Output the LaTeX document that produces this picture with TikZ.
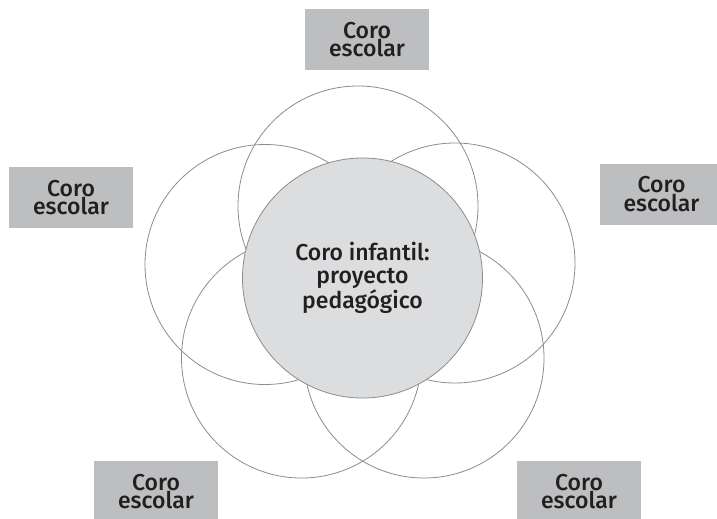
\documentclass[tikz,border=0pt]{standalone}
\usepackage{fontspec}
\setmainfont{Fira Sans Medium}
\definecolor{boxgray}{HTML}{BDBEC0}
\definecolor{hubgray}{HTML}{DCDDDE}
\definecolor{ringgray}{HTML}{8C8C8C}
\definecolor{ink}{HTML}{231F20}
\begin{document}
\begin{tikzpicture}[x=1pt,y=-1pt,
  ring/.style={circle,draw=ringgray,line width=0.8pt,minimum size=240pt,inner sep=0pt},
  hub/.style={circle,draw=ringgray,line width=0.8pt,fill=hubgray,minimum size=240pt,inner sep=0pt,
    text=ink,align=center,font=\fontsize{23}{22.5}\selectfont},
  label/.style={rectangle,fill=boxgray,minimum width=124pt,minimum height=61pt,inner sep=0pt,
    text=ink,align=center,font=\fontsize{23}{17.5}\selectfont}]
\useasboundingbox (0,0) rectangle (717,519);
\clip (0,0) rectangle (717,519);
\node[ring] (rt) at (358,206) {};
\node[ring] (rl) at (265,264.5) {};
\node[ring] (rr) at (455,263) {};
\node[ring] (rbl) at (301.5,358) {};
\node[ring] (rbr) at (424,358) {};
\node[hub] (hub) at (362.5,278) {Coro infantil:\\proyecto\\pedagógico};
\node[label] (lt) at (367,39.5) {Coro\\escolar};
\node[label] (ll) at (71,197.5) {Coro\\escolar};
\node[label] (lr) at (661.5,194) {Coro\\escolar};
\node[label] (lbl) at (156,491.5) {Coro\\escolar};
\node[label] (lbr) at (579,491.5) {Coro\\escolar};
\end{tikzpicture}
\end{document}
